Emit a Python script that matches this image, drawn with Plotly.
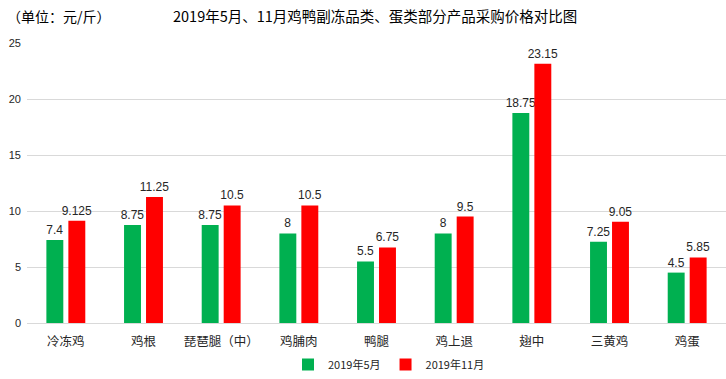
import plotly.graph_objects as go

categories = ["冷冻鸡", "鸡根", "琵琶腿（中）", "鸡脯肉", "鸭腿", "鸡上退", "翅中", "三黄鸡", "鸡蛋"]
may_2019 = [7.4, 8.75, 8.75, 8, 5.5, 8, 18.75, 7.25, 4.5]
nov_2019 = [9.125, 11.25, 10.5, 10.5, 6.75, 9.5, 23.15, 9.05, 5.85]
series_names = ["2019年5月", "2019年11月"]
y_ticks = [0, 5, 10, 15, 20, 25]

FONT = "Noto Sans CJK SC, Noto Sans, sans-serif"
NUMFONT = "Liberation Sans, Arial, sans-serif"

def fmt(v):
    return format(v, "g")

fig = go.Figure()
for name, vals, color in [(series_names[0], may_2019, "#00B050"), (series_names[1], nov_2019, "#FF0000")]:
    fig.add_trace(go.Bar(
        x=categories, y=vals, name=name,
        marker=dict(color=color, line=dict(width=0)),
        text=[fmt(v) for v in vals], textposition="outside",
        textfont=dict(size=12, color="#262626", family=NUMFONT),
        cliponaxis=False,
    ))

fig.update_layout(
    width=726, height=379,
    margin=dict(l=27, r=0, t=43, b=56),
    paper_bgcolor="white", plot_bgcolor="white",
    barmode="group", bargap=0.434, bargroupgap=0.23,
    font=dict(family=FONT, color="#262626"),
    uniformtext=dict(mode="show", minsize=12),
    xaxis=dict(showgrid=False, showline=False, ticks="", ticklabelstandoff=9,
               tickfont=dict(size=12.5, color="#262626", family=FONT)),
    yaxis=dict(range=[0, 25], tickvals=y_ticks, showgrid=True, gridcolor="#D9D9D9", gridwidth=1,
               zeroline=True, zerolinecolor="#D9D9D9", zerolinewidth=1, showline=False,
               tickfont=dict(size=11, color="#262626", family=NUMFONT),
               ticklabelstandoff=5),
    legend=dict(orientation="h", x=(389 - 27) / 699, xanchor="center", y=-0.15, yanchor="middle",
                font=dict(size=11, color="#262626", family=FONT), itemwidth=30, traceorder="normal"),
    showlegend=True,
    annotations=[
        dict(text="2019年5月、11月鸡鸭副冻品类、蛋类部分产品采购价格对比图", xref="paper", yref="paper",
             x=(375 - 27) / 699, y=1 + (43 - 16) / 280, xanchor="center", yanchor="middle", showarrow=False,
             font=dict(size=14.5, color="#000000", family=FONT)),
        dict(text="（单位：元/斤）", xref="paper", yref="paper",
             x=(5 - 27) / 699, y=1 + (43 - 16) / 280, xanchor="left", yanchor="middle", showarrow=False,
             font=dict(size=14, color="#000000", family=FONT)),
    ],
)

fig.write_html("out.html", config={"displayModeBar": False},
               post_script="document.body.style.margin='0px';document.body.style.overflow='hidden';")
